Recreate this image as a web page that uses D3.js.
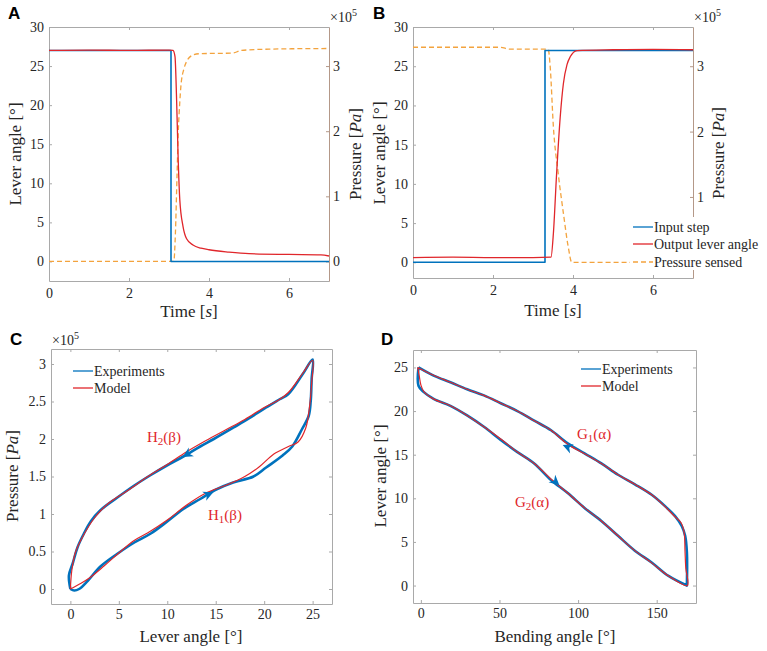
<!DOCTYPE html>
<html>
<head>
<meta charset="utf-8">
<script src="https://cdn.jsdelivr.net/npm/d3@7"></script>
<style>
  body { margin: 0; background: #fff; }
</style>
</head>
<body>
<svg id="chart" width="767" height="651"></svg>
<script>
// ---- data ----
// A: step down
const stepTimeA = [0, 3.05, 3.05, 7];
const stepA = [27, 27, 0, 0];
const leverTimeA = [0, 1, 2, 3, 3.1, 3.15, 3.19, 3.23, 3.27, 3.35, 3.44, 3.6, 3.8, 4, 4.5, 5, 6, 6.8, 7];
const leverA = [27, 27.05, 27, 27.05, 27, 26.2, 20.7, 13, 7.9, 4.5, 2.9, 2.1, 1.7, 1.5, 1.2, 1.0, 0.9, 0.85, 0.7];
const pressTimeA = [0, 3.12, 3.16, 3.2, 3.23, 3.27, 3.3, 3.37, 3.44, 3.6, 3.77, 4.6, 4.8, 5.5, 7];
const pressA = [0, 0, 0.43, 1.3, 1.95, 2.45, 2.71, 2.95, 3.07, 3.17, 3.19, 3.2, 3.24, 3.26, 3.27];

// B: step up
const stepTimeB = [0, 3.3, 3.3, 7];
const stepB = [0, 0, 27, 27];
const leverTimeB = [0, 1, 2, 3, 3.45, 3.51, 3.59, 3.68, 3.76, 3.85, 3.93, 4.1, 5, 6, 7];
const leverB = [0.6, 0.65, 0.6, 0.6, 0.65, 3.7, 11.3, 18.5, 22.8, 25.2, 26.2, 27, 27.1, 27.15, 27.1];
const pressTimeB = [0, 2.18, 2.42, 3.38, 3.43, 3.51, 3.63, 3.76, 3.88, 3.97, 7];
const pressB = [3.29, 3.29, 3.26, 3.26, 2.99, 2.07, 1.36, 0.75, 0.24, 0, 0];

// C: pressure (x1e5) vs lever angle loop
const expLeverC = [0, 0.4, 0.9, 1.8, 3.1, 4.85, 6.6, 8.3, 10, 11.7, 13.4, 15.1, 16.8, 18.9, 20.2, 21.9, 22.9, 23.9, 24.6, 24.8, 24.9, 25,
  24, 22.5, 21.6, 20.2, 18.5, 16.8, 14.8, 13.4, 11.7, 10, 8.3, 6.6, 4.85, 3.1, 2.1, 1.4, 0.75, 0.24, -0.15, 0];
const expPressC = [0, -0.02, 0.0, 0.11, 0.3, 0.47, 0.62, 0.74, 0.9, 1.07, 1.2, 1.33, 1.42, 1.5, 1.62, 1.78, 1.9, 2.13, 2.31, 2.5, 2.8, 3.06,
  2.87, 2.6, 2.53, 2.42, 2.28, 2.15, 2.0, 1.9, 1.77, 1.65, 1.52, 1.38, 1.22, 1.05, 0.9, 0.74, 0.56, 0.34, 0.18, 0];
const modelLeverC = [0, 1, 2, 3.5, 5, 6.5, 8, 10, 12, 14, 16, 18, 19.5, 21, 22.5, 23.5, 24.3, 24.7, 24.9, 25,
  24, 22.5, 21.5, 20, 18, 16, 14, 12, 10, 8, 6, 4, 2.5, 1.2, 0.5, 0.15, 0];
const modelPressC = [0, 0.07, 0.15, 0.31, 0.48, 0.64, 0.75, 0.92, 1.12, 1.28, 1.38, 1.5, 1.63, 1.8, 1.9, 1.96, 2.15, 2.45, 2.75, 3.05,
  2.88, 2.62, 2.52, 2.42, 2.26, 2.12, 1.98, 1.83, 1.66, 1.5, 1.32, 1.15, 0.95, 0.68, 0.48, 0.25, 0];

// D: lever angle vs bending angle loop
const expBendD = [-1.5, -1.5, 1.7, 8.1, 18.8, 29.4, 40.1, 50.8, 61.4, 72.1, 82.8, 93.4, 104.1, 114.8, 125.4, 136.1, 146.8, 157.5, 169.2,
  169.2, 169.2, 168.1, 166, 161.7, 155.3, 146.8, 136.1, 125.4, 114.8, 104.1, 93.4, 82.8, 72.1, 61.4, 50.8, 40.1, 29.4, 18.8, 8.1, -1.5];
const expLeverD = [25, 22.9, 22.2, 21.4, 20.6, 19.5, 18.2, 16.7, 15.3, 14.0, 12.1, 10.6, 8.9, 7.4, 5.7, 4.0, 2.65, 1.1, 0,
  0, 3.8, 5.7, 6.8, 7.95, 9.1, 10.4, 11.6, 12.7, 14.0, 15.15, 16.3, 17.8, 18.9, 20.0, 20.9, 21.8, 22.5, 23.3, 24.06, 25];
const modelBendD = [-2, -1, 0, 2, 8, 18.8, 29.4, 40.1, 50.8, 61.4, 72.1, 82.8, 93.4, 104.1, 114.8, 125.4, 136.1, 146.8, 157.5, 169.5,
  168.5, 168, 167.5, 165.5, 161, 155, 146.8, 136.1, 125.4, 114.8, 104.1, 93.4, 82.8, 72.1, 61.4, 50.8, 40.1, 29.4, 18.8, 8.1, -2];
const modelLeverD = [25, 24, 23, 22.2, 21.4, 20.6, 19.5, 18.2, 16.8, 15.3, 14.0, 12.2, 10.6, 8.9, 7.4, 5.7, 4.0, 2.6, 1.1, 0,
  2, 4, 6, 7.2, 8.0, 9.1, 10.4, 11.6, 12.7, 14.0, 15.1, 16.2, 17.8, 18.9, 20.0, 20.9, 21.8, 22.5, 23.3, 24.1, 25];

// tick values
const timeTicks = [0, 2, 4, 6];
const leverTicksAB = [0, 5, 10, 15, 20, 25, 30];
const pressTicksA = [0, 1, 2, 3];
const pressTicksB = [1, 2, 3];   // the 0 tick sits under the legend box
const leverTicksC = [0, 5, 10, 15, 20, 25];
const pressTicksC = [0, 0.5, 1, 1.5, 2, 2.5, 3];
const bendTicksD = [0, 50, 100, 150];
const leverTicksD = [0, 5, 10, 15, 20, 25];

const BLUE = '#0072bd', RED = '#e0262b', ORANGE = '#f3a33e', BOX = '#a9a9a9', INK = '#262626', BROWN = '#b49888';
const SERIF = '"Liberation Serif", "Times New Roman", serif';
const SANS = '"Liberation Sans", Arial, sans-serif';

const svg = d3.select('#chart');
const zip = (xs, ys) => xs.map((v, i) => [v, ys[i]]);

function styleAxis(sel, color) {
  sel.attr('font-family', SERIF).attr('font-size', 14);
  sel.select('.domain').attr('stroke', color || BOX);
  sel.selectAll('.tick line').attr('stroke', color || BOX);
  sel.selectAll('.tick text').attr('fill', INK).attr('font-family', SERIF);
}

// builds a MATLAB-like box axes, ticks pointing inward
function makeAxes(p) {
  const x = d3.scaleLinear().domain(p.xDom).range([p.left, p.right]);
  const y = d3.scaleLinear().domain(p.yDom).range([p.bottom, p.top]);
  const g = svg.append('g');
  const fmt = d => String(d);

  g.append('g').attr('transform', `translate(0,${p.top})`)
    .call(d3.axisTop(x).tickValues(p.xTicks).tickSizeInner(-3).tickSizeOuter(0).tickFormat(''))
    .call(s => styleAxis(s));
  if (!p.rightAxis) {
    g.append('g').attr('transform', `translate(${p.right},0)`)
      .call(d3.axisRight(y).tickValues(p.yTicks).tickSizeInner(-3).tickSizeOuter(0).tickFormat(''))
      .call(s => styleAxis(s));
  }
  g.append('g').attr('transform', `translate(0,${p.bottom})`)
    .call(d3.axisBottom(x).tickValues(p.xTicks).tickSizeInner(-3).tickSizeOuter(0).tickPadding(p.xPad).tickFormat(fmt))
    .call(s => styleAxis(s));
  g.append('g').attr('transform', `translate(${p.left},0)`)
    .call(d3.axisLeft(y).tickValues(p.yTicks).tickSizeInner(-3).tickSizeOuter(0).tickPadding(5).tickFormat(fmt))
    .call(s => styleAxis(s));
  return { x, y, g };
}

function rightAxis(p, y2, ticks) {
  svg.append('g').attr('transform', `translate(${p.right},0)`)
    .call(d3.axisRight(y2).tickValues(ticks).tickSizeInner(-3).tickSizeOuter(0).tickPadding(4).tickFormat(d => String(d)))
    .call(s => styleAxis(s, BROWN));
}

function drawLine(x, y, pts, color, width, dash, curve) {
  svg.append('path')
    .datum(pts)
    .attr('fill', 'none')
    .attr('stroke', color)
    .attr('stroke-width', width)
    .attr('stroke-linejoin', 'round')
    .attr('stroke-dasharray', dash || null)
    .attr('d', d3.line().curve(curve || d3.curveLinear).x(d => x(d[0])).y(d => y(d[1])));
}

function yLabel(cx, cy, parts) {
  const t = svg.append('text')
    .attr('transform', `translate(${cx},${cy}) rotate(-90)`)
    .attr('text-anchor', 'middle')
    .attr('dy', '0.35em')
    .attr('font-family', SERIF).attr('font-size', 17).attr('fill', INK);
  parts.forEach(pt => t.append('tspan').attr('font-style', pt[1] ? 'italic' : null).text(pt[0]));
}

function xLabel(cx, by, parts) {
  const t = svg.append('text')
    .attr('x', cx).attr('y', by)
    .attr('text-anchor', 'middle')
    .attr('font-family', SERIF).attr('font-size', 17).attr('fill', INK);
  parts.forEach(pt => t.append('tspan').attr('font-style', pt[1] ? 'italic' : null).text(pt[0]));
}

function exponent(xp, yp) {
  const t = svg.append('text').attr('x', xp).attr('y', yp)
    .attr('font-family', SERIF).attr('font-size', 14).attr('fill', INK);
  t.append('tspan').text('×10');
  t.append('tspan').attr('dy', -6).attr('font-size', 10).text('5');
}

function letter(xp, yp, s) {
  svg.append('text').attr('x', xp).attr('y', yp)
    .attr('font-family', SANS).attr('font-weight', 'bold').attr('font-size', 17).attr('fill', '#000').text(s);
}

function legend(x0, rows) {
  rows.forEach(r => {
    svg.append('line').attr('x1', x0).attr('x2', x0 + 20).attr('y1', r.y).attr('y2', r.y)
      .attr('stroke', r.color).attr('stroke-width', 1.3).attr('stroke-dasharray', r.dash || null);
    svg.append('text').attr('x', x0 + 21).attr('y', r.y).attr('dy', '0.33em')
      .attr('font-family', SERIF).attr('font-size', 14).attr('fill', INK).text(r.label);
  });
}

function arrowHead(x, y, tip, from, color) {
  const tx = x(tip[0]), ty = y(tip[1]);
  const a = Math.atan2(ty - y(from[1]), tx - x(from[0])) * 180 / Math.PI;
  svg.append('path')
    .attr('transform', `translate(${tx},${ty}) rotate(${a})`)
    .attr('d', 'M0,0 L-10,-5 L-7,0 L-10,5 Z')
    .attr('fill', color);
}

function subLabel(xp, yp, main, sub, rest) {
  const t = svg.append('text').attr('x', xp).attr('y', yp)
    .attr('font-family', SERIF).attr('font-size', 15).attr('fill', RED);
  t.append('tspan').text(main);
  t.append('tspan').attr('dy', 3).attr('font-size', 11).text(sub);
  t.append('tspan').attr('dy', -3).text(rest);
}

const smooth = d3.curveCatmullRom.alpha(0.5);

// ---- Panel A ----
const pA = { left: 49, right: 329, top: 27, bottom: 281, xDom: [0, 7], yDom: [-2.5, 30],
  xTicks: timeTicks, yTicks: leverTicksAB, xPad: 7, rightAxis: true };
const A = makeAxes(pA);
const yA2 = d3.scaleLinear().domain([-0.3, 3.6]).range([pA.bottom, pA.top]);
rightAxis(pA, yA2, pressTicksA);
drawLine(A.x, yA2, zip(pressTimeA, pressA), ORANGE, 1.3, '5,3', d3.curveMonotoneX);
drawLine(A.x, A.y, zip(stepTimeA, stepA), BLUE, 1.6);
drawLine(A.x, A.y, zip(leverTimeA, leverA), RED, 1.3, null, d3.curveMonotoneX);
letter(8, 19, 'A');
exponent(330, 22);
yLabel(15, 154, [['Lever angle [°]']]);
yLabel(355, 154, [['Pressure ['], ['Pa', true], [']']]);
xLabel(189, 317, [['Time ['], ['s', true], [']']]);

// ---- Panel B ----
const pB = { left: 413, right: 693, top: 27, bottom: 278, xDom: [0, 7], yDom: [-2, 30],
  xTicks: timeTicks, yTicks: leverTicksAB, xPad: 7, rightAxis: true };
const B = makeAxes(pB);
const yB2 = d3.scaleLinear().domain([-0.24, 3.6]).range([pB.bottom, pB.top]);
rightAxis(pB, yB2, pressTicksB);
drawLine(B.x, yB2, zip(pressTimeB, pressB), ORANGE, 1.3, '5,3', d3.curveMonotoneX);
drawLine(B.x, B.y, zip(stepTimeB, stepB), BLUE, 1.6);
drawLine(B.x, B.y, zip(leverTimeB, leverB), RED, 1.3, null, d3.curveMonotoneX);
svg.append('rect').attr('x', 630).attr('y', 217).attr('width', 137).attr('height', 53).attr('fill', '#fff');
legend(633, [
  { y: 227, color: BLUE, label: 'Input step' },
  { y: 244, color: RED, label: 'Output lever angle' },
  { y: 262, color: ORANGE, label: 'Pressure sensed', dash: '5,3' }
]);
letter(373, 19, 'B');
exponent(694, 22);
yLabel(379, 153, [['Lever angle [°]']]);
yLabel(718, 153, [['Pressure ['], ['Pa', true], [']']]);
xLabel(553, 316, [['Time ['], ['s', true], [']']]);

// ---- Panel C ----
const pC = { left: 51, right: 332, top: 349, bottom: 604, xDom: [-2, 27], yDom: [-0.2, 3.2],
  xTicks: leverTicksC, yTicks: pressTicksC, xPad: 5 };
const C = makeAxes(pC);
drawLine(C.x, C.y, zip(expLeverC, expPressC), BLUE, 2.6, null, smooth);
drawLine(C.x, C.y, zip(modelLeverC, modelPressC), RED, 1.2, null, smooth);
arrowHead(C.x, C.y, [11.6, 1.76], [13.4, 1.9], BLUE);
arrowHead(C.x, C.y, [14.75, 1.29], [13.0, 1.19], BLUE);
subLabel(147, 442, 'H', '2', '(β)');
subLabel(208, 520, 'H', '1', '(β)');
legend(73, [
  { y: 371, color: BLUE, label: 'Experiments' },
  { y: 388, color: RED, label: 'Model' }
]);
letter(10, 345, 'C');
exponent(52, 345);
yLabel(12, 476, [['Pressure ['], ['Pa', true], [']']]);
xLabel(191, 642, [['Lever angle [°]']]);

// ---- Panel D ----
const pD = { left: 413, right: 696, top: 350, bottom: 603, xDom: [-5, 175], yDom: [-2, 27],
  xTicks: bendTicksD, yTicks: leverTicksD, xPad: 5 };
const D = makeAxes(pD);
drawLine(D.x, D.y, zip(expBendD, expLeverD), BLUE, 2.6, null, smooth);
drawLine(D.x, D.y, zip(modelBendD, modelLeverD), RED, 1.2, null, smooth);
arrowHead(D.x, D.y, [90.2, 16.1], [100, 15.4], BLUE);
arrowHead(D.x, D.y, [88.1, 11.5], [80, 12.8], BLUE);
subLabel(577, 439, 'G', '1', '(α)');
subLabel(515, 507, 'G', '2', '(α)');
legend(581, [
  { y: 369, color: BLUE, label: 'Experiments' },
  { y: 386, color: RED, label: 'Model' }
]);
letter(381, 345, 'D');
yLabel(380, 476, [['Lever angle [°]']]);
xLabel(555, 642, [['Bending angle [°]']]);
</script>
</body>
</html>
